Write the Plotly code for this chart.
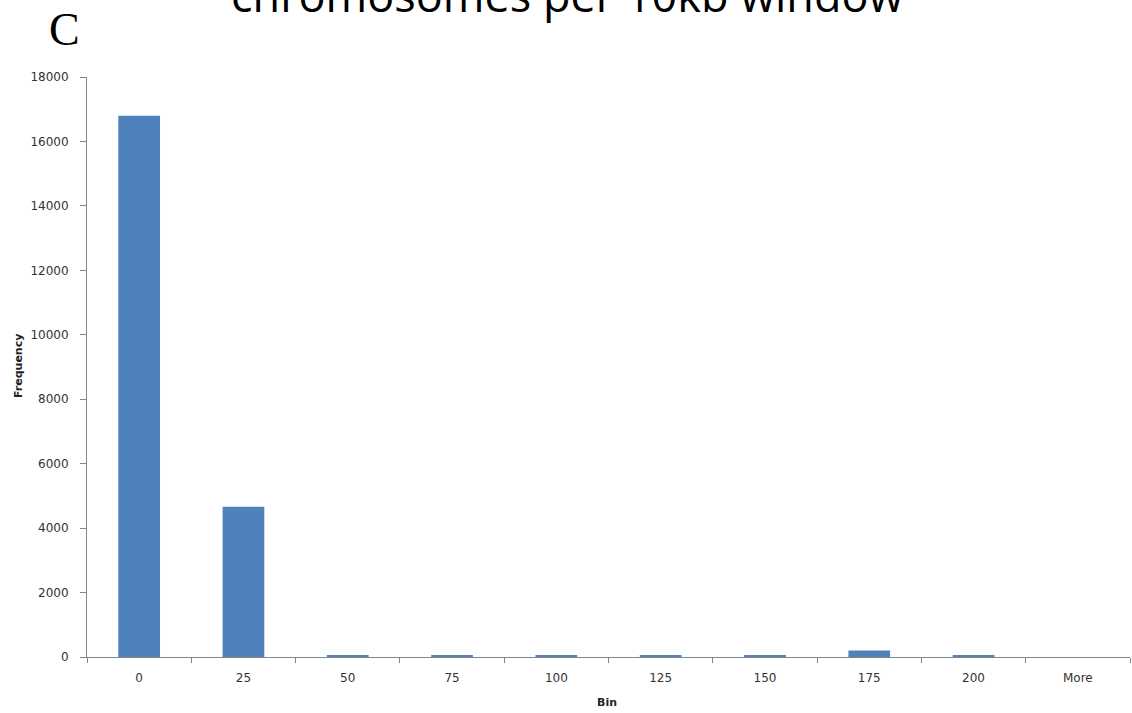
import plotly.graph_objects as go

bins = ["0", "25", "50", "75", "100", "125", "150", "175", "200", "More"]
frequency = [16800, 4660, 40, 40, 40, 40, 40, 200, 40, 0]
y_ticks = [0, 2000, 4000, 6000, 8000, 10000, 12000, 14000, 16000, 18000]

W, H = 1132, 713
ml, mr, mt, mb = 87, 2, 77, 56

fig = go.Figure()
fig.add_trace(go.Bar(
    x=bins, y=frequency,
    marker=dict(color="#4F81BD", line=dict(width=0)),
    width=0.4,
))

axis_color = "#868686"
tick_font = dict(family="DejaVu Sans", size=12, color="#333")
fig.update_layout(
    width=W, height=H,
    margin=dict(l=ml, r=mr, t=mt, b=mb),
    paper_bgcolor="white", plot_bgcolor="white",
    showlegend=False,
    xaxis=dict(
        type="category", showgrid=False, showline=True, linecolor=axis_color,
        linewidth=1, ticks="outside", tickson="boundaries", ticklen=5,
        tickcolor=axis_color, tickfont=tick_font, ticklabelstandoff=10,
    ),
    yaxis=dict(
        range=[0, 18000], tickvals=y_ticks, tickformat="d", showgrid=False,
        showline=True, linecolor=axis_color, linewidth=1, ticks="outside",
        ticklen=6, tickcolor=axis_color, tickfont=tick_font,
        zeroline=False, ticklabelstandoff=9,
    ),
)

ph = H - mt - mb
def py(pix):
    return (H - mb - pix) / ph

fig.add_annotation(text="chromosomes per 10kb window", xref="paper", yref="paper",
                   x=(567 - ml) / (W - ml - mr), y=py(27), xanchor="center", yanchor="bottom",
                   showarrow=False, font=dict(family="Open Sans", size=45, color="black"))
fig.add_annotation(text="C", xref="paper", yref="paper",
                   x=(64 - ml) / (W - ml - mr), y=py(29), xanchor="center", yanchor="middle",
                   showarrow=False, font=dict(family="Liberation Serif", size=46, color="black"))
fig.add_annotation(text="<b>Frequency</b>", xref="paper", yref="paper",
                   x=(18 - ml) / (W - ml - mr), y=py(366), xanchor="center", yanchor="middle",
                   textangle=-90, showarrow=False,
                   font=dict(family="DejaVu Sans", size=11, color="#222"))
fig.add_annotation(text="<b>Bin</b>", xref="paper", yref="paper",
                   x=(607 - ml) / (W - ml - mr), y=py(702), xanchor="center", yanchor="middle",
                   showarrow=False, font=dict(family="DejaVu Sans", size=11, color="#222"))

fig.write_html("out.html")
